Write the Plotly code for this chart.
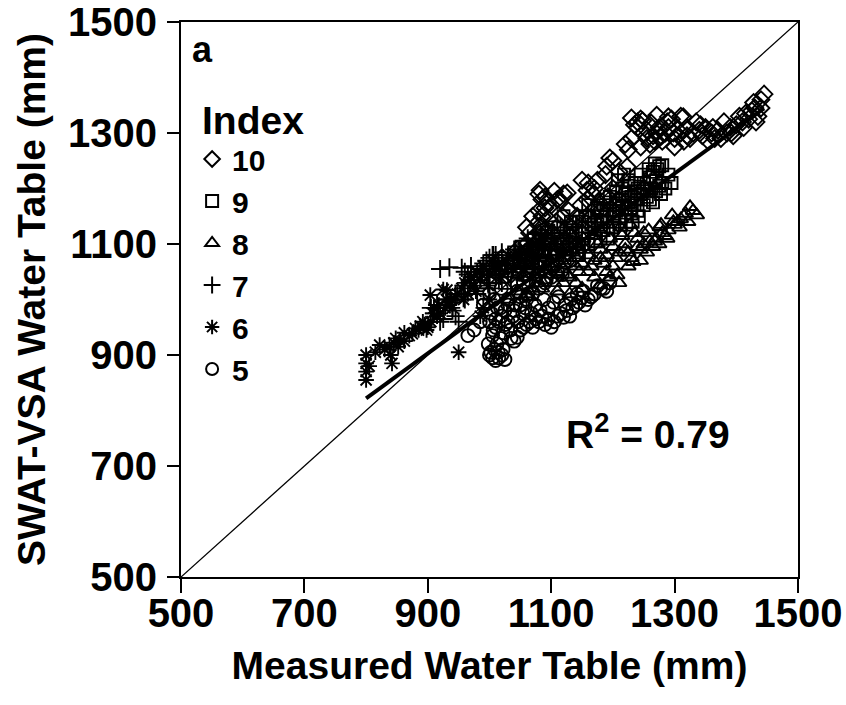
import plotly.graph_objects as go

# ---------------- data ----------------
idx10_x = [1300,1310,1315,1320,1330,1335,1340,1345,1350,1360,1365,1370,1380,1385,1390,1395,1400,1405,1410,1415,
           1420,1425,1430,1435,1440,1445,1440,1428,1375,1355,
           1230,1240,1245,1235,1250,1255,1260,1265,1270,1275,1280,1285,1290,1295,1310,1271,1290,1314,1230,1225,1220,1245,
           1223,1210,1195,1200,1190,1175,1160,1158,1170,1150,1200,
           1080,1085,1090,1095,1080,1085,1090,1080,1085,1100,1110,1120,1126,1095,1080,1082,1114,
           1050,1060,1070,1030,1040,1150,1170,1120,1100,1130,1180,1210,1250,1260,
           1010,1020,1035,1045,1055,1065,1075,1088,1098,1108,1118,1128,1138,1148,1158,1168,1178,1188,1060,1070,
           1092,1105,1240,1248,1255,1262,1268,1278,1288,1298,1320,1342,1362,1392,1412,1432,1300,1325,
           1042,1058,1068,1078,1102,1112,1132,1142,1162,1172,1192,1202]
idx10_y = [1290,1300,1285,1310,1300,1320,1305,1295,1310,1300,1290,1305,1320,1300,1310,1295,1315,1330,1320,1335,
           1325,1340,1345,1330,1360,1370,1345,1355,1290,1285,
           1327,1320,1325,1315,1300,1290,1280,1295,1300,1310,1285,1300,1310,1325,1330,1332,1329,1329,1290,1270,1280,1275,
           1239,1230,1255,1250,1240,1215,1210,1197,1200,1215,1200,
           1190,1180,1185,1175,1160,1150,1165,1140,1130,1170,1180,1190,1192,1145,1120,1197,1179,
           1080,1100,1110,1060,1070,1120,1140,1080,1060,1100,1160,1180,1200,1220,
           1050,1075,1045,1090,1065,1120,1095,1125,1105,1140,1150,1160,1135,1170,1180,1190,1175,1225,1130,1150,
           1110,1195,1310,1322,1305,1318,1285,1295,1320,1300,1295,1315,1310,1300,1310,1320,1275,1290,
           1030,1085,1070,1105,1120,1095,1115,1150,1145,1165,1185,1170]

idx9_x = [1200,1205,1210,1215,1220,1225,1230,1235,1240,1245,1250,1255,1260,1265,1270,1275,1280,1270,1260,1250,
          1240,1230,1220,1210,1200,1190,1180,1185,1195,1205,1215,1225,1235,1265,1275,1280,1285,1295,1290,
          1180,1170,1160,1150,1140,1130,1120,1110,1100,1090,1080,1070,1060,1050,1040,1150,1160,1130,1170,1100,1120,
          1005,1015,1025,1035,1045,1055,1065,1075,1085,1095,1105,1115,1125,1135,1145,1155,1165,1175,1185,1195,
          1205,1215,1225,1235,1245,1255,1262,1268,1272,1278,1208,1218,1228,1238,1248,1258,1190,1175,1160,1145,
          1052,1062,1072,1082,1092,1102,1112,1122,1132,1142,1152,1162,1172,1182,1192,1202,1212,1222,1232,1242]
idx9_y = [1150,1160,1170,1180,1190,1175,1185,1195,1200,1190,1210,1200,1220,1230,1215,1240,1242,1195,1180,1170,
          1160,1155,1150,1140,1130,1140,1150,1170,1185,1195,1200,1205,1210,1175,1205,1210,1200,1210,1225,
          1110,1120,1100,1110,1120,1090,1100,1080,1090,1070,1060,1080,1070,1060,1085,1140,1130,1130,1160,1130,1150,
          1040,1055,1030,1065,1050,1075,1060,1090,1080,1100,1085,1110,1105,1125,1095,1150,1135,1165,1125,1175,
          1180,1165,1215,1170,1225,1185,1200,1245,1235,1190,1215,1225,1165,1180,1195,1235,1160,1135,1170,1080,
          1095,1045,1110,1065,1120,1070,1130,1075,1140,1085,1100,1150,1105,1140,1110,1155,1125,1135,1140,1150]

idx8_x = [1060,1070,1080,1090,1100,1110,1120,1130,1140,1150,1160,1170,1179,1180,1190,1200,1207,1210,1220,1230,
          1233,1240,1250,1255,1260,1265,1270,1275,1280,1285,1290,1296,1300,1305,1310,1318,1325,1330,1336,1276,
          1250,1240,1220,1200,1180,1160,1140,1120,1100,1080,1060,1150,1140,1120,1195,1210,
          1030,1045,1055,1065,1075,1085,1095,1105,1115,1125,1135,1145,1155,1165,1175,1185,1195,1205,1215,1225,
          1235,1245,1258,1268,1278,1288,1298,1308,1315,1322,1110,1130,1170,1190,1225,1245,
          1062,1078,1092,1108,1122,1138,1152,1168,1182,1198,1212,1228]
idx8_y = [1010,1020,1030,1035,1045,1050,1055,1040,1060,1065,1050,1070,1026,1075,1080,1060,1044,1085,1090,1075,
          1068,1095,1100,1085,1105,1095,1110,1100,1120,1115,1125,1152,1135,1140,1145,1155,1167,1160,1152,1131,
          1120,1110,1100,1095,1090,1080,1075,1065,1060,1050,1040,1020,1030,1030,1040,1030,
          1000,1015,1040,1005,1045,1020,1065,1030,1075,1045,1085,1050,1090,1060,1100,1065,1110,1075,1115,1085,
          1120,1090,1125,1105,1135,1110,1140,1130,1150,1140,1015,1010,1040,1050,1060,1070,
          1060,1065,1080,1085,1095,1100,1110,1115,1120,1125,1130,1135]

idx7_x = [905,910,915,920,930,940,945,950,955,960,965,970,975,985,990,995,1000,1005,1010,1015,
          1020,1030,1040,1050,1060,1070,1080,1090,1100,1110,1120,1130,1000,1010,1020,1030,1050,1070,980,960,
          920,935,1006,
          945,958,968,978,988,998,1008,1018,1028,1038,1048,1058,1068,1078,1088,1098,1108,1118,1128,1140,
          1150,925,938,
          1062,1075,1085,1095,1105,1115,1125,1135]
idx7_y = [985,975,990,960,1000,980,970,960,1057,1050,1045,1060,1040,1055,1065,1070,1075,1080,1080,1070,
          1085,1075,1090,1080,1095,1090,1100,1105,1110,1100,1115,1110,1020,1040,1030,1050,1060,1070,1010,1000,
          1055,1058,1080,
          1010,1025,1035,1020,1045,1030,1060,1045,1065,1055,1075,1068,1085,1078,1095,1088,1100,1090,1105,1095,
          1110,965,995,
          1110,1118,1115,1125,1120,1130,1125,1135]

idx6_x = [800,800,800,800,805,815,822,830,838,840,842,848,855,862,870,875,885,895,900,905,
          910,915,920,925,930,935,940,945,950,955,960,965,970,975,980,985,990,1000,1005,1010,
          1020,1030,1040,1050,1060,1070,1080,1090,1000,990,985,931,904,
          880,888,892,898,908,918,928,938,948,958,968,978,988,998,1008,1018,1028,1038,1048,1058,
          1068,1078,862,852,845]
idx6_y = [855,870,885,900,880,905,918,910,915,900,885,930,925,940,935,938,945,955,950,960,
          985,970,975,1018,1000,990,985,1005,905,1020,1030,1010,1040,1025,1050,1035,1060,1045,1070,1055,
          1065,1080,1075,1090,1085,1100,1095,1110,1000,985,970,1017,1008,
          948,952,960,945,975,990,985,1000,1010,1000,1035,1015,1045,1025,1060,1040,1070,1055,1080,1065,
          1090,1075,925,915,922]

idx5_x = [1000,1005,1010,1015,1020,1025,1008,1012,1018,1022,1005,1010,1015,1020,1025,1030,1000,1003,1035,1040,
          1045,1050,1055,1060,1065,1070,1075,1080,1085,1090,1095,1100,1105,1110,1115,1120,1125,1130,1135,1140,
          1145,1150,1155,1160,1170,1180,1190,1030,1040,1050,1060,1070,1080,1090,1100,1110,1000,990,985,965,975,
          998,1002,1006,1010,1014,1018,1022,1026,1030,1034,1038,1042,1046,1050,1054,1058,1062,1068,1074,1082,
          1088,1096,1104,1112,1122,1132,1142,1152,1165,1175,1185,1195,1007,1013,1019,
          1045,1055,1065,1078,1092,1105,1118,1130]
idx5_y = [900,895,890,895,900,892,910,920,930,940,935,950,960,970,980,990,960,975,930,925,
          932,945,950,955,960,950,965,960,970,955,965,950,960,970,975,968,980,970,985,990,
          995,1003,990,1000,1010,1020,1015,960,980,990,1000,1010,1020,1030,1040,1050,1010,990,960,935,945,
          920,905,945,965,905,985,910,955,1000,945,970,990,960,1005,975,985,1010,975,990,980,
          1000,985,995,1005,990,1000,1010,1015,1005,1025,1020,1030,1000,985,1020,
          1015,1030,1035,1045,1035,1060,1045,1070]

series_names = ["10", "9", "8", "7", "6", "5"]
series_x = [idx10_x, idx9_x, idx8_x, idx7_x, idx6_x, idx5_x]
series_y = [idx10_y, idx9_y, idx8_y, idx7_y, idx6_y, idx5_y]
series_symbols = ["diamond-open", "square-open", "triangle-up-open", "cross-thin-open", "asterisk-open", "circle-open"]
series_sizes = [13, 12, 13, 13, 13, 13]

# regression line
reg_slope = 0.81
reg_intercept = 174
r2_text = "R<sup>2</sup> = 0.79"

axis_min, axis_max = 500, 1500
tick_vals = [500, 700, 900, 1100, 1300, 1500]

# ---------------- figure ----------------
FONT = "Liberation Sans, Arial, sans-serif"
fig = go.Figure()

# 1:1 line
fig.add_trace(go.Scatter(x=[axis_min, axis_max], y=[axis_min, axis_max], mode="lines",
                         line=dict(color="black", width=1.3), showlegend=False, hoverinfo="skip"))

for name, xs, ys, sym, sz in zip(series_names, series_x, series_y, series_symbols, series_sizes):
    fig.add_trace(go.Scatter(x=xs, y=ys, mode="markers", name=name,
                             marker=dict(symbol=sym, size=sz, color="black",
                                         line=dict(color="black", width=1.9))))

all_x = [v for s in series_x for v in s]
x0, x1 = min(all_x), max(all_x)
fig.add_trace(go.Scatter(x=[x0, x1], y=[reg_slope * x0 + reg_intercept, reg_slope * x1 + reg_intercept],
                         mode="lines", line=dict(color="black", width=4), showlegend=False, hoverinfo="skip"))

axis_common = dict(range=[axis_min, axis_max], tickvals=tick_vals, showgrid=False, zeroline=False,
                   showline=True, linecolor="black", linewidth=2, mirror=True, automargin=False,
                   ticks="outside", tickwidth=2, tickcolor="black", ticklabeloverflow="allow",
                   tickfont=dict(family=FONT, size=40, color="black", weight="bold"))

fig.update_layout(
    width=846, height=705,
    margin=dict(l=181, r=48, t=22, b=128),
    paper_bgcolor="white", plot_bgcolor="white",
    font=dict(family=FONT, color="black"),
    xaxis=dict(**axis_common, ticklen=14, ticklabelstandoff=-14,
               title=dict(text="Measured Water Table (mm)", standoff=18,
                          font=dict(family=FONT, size=39, color="black", weight="bold"))),
    yaxis=dict(**axis_common, ticklen=12, ticklabelstandoff=2,
               title=dict(text="SWAT-VSA Water Table (mm)", standoff=10,
                          font=dict(family=FONT, size=39, color="black", weight="bold"))),
    legend=dict(x=0.018, y=0.80, xanchor="left", yanchor="top", bgcolor="rgba(0,0,0,0)",
                font=dict(family=FONT, size=30, color="black", weight="bold"),
                itemsizing="constant", tracegroupgap=0),
    annotations=[
        dict(text="a", x=0.015, y=0.95, xref="paper", yref="paper", xanchor="left", yanchor="middle",
             showarrow=False, font=dict(family=FONT, size=36, color="black", weight="bold")),
        dict(text="Index", x=0.03, y=0.822, xref="paper", yref="paper", xanchor="left", yanchor="middle",
             showarrow=False, font=dict(family=FONT, size=39, color="black", weight="bold")),
        dict(text=r2_text, x=0.62, y=0.262, xref="paper", yref="paper", xanchor="left", yanchor="middle",
             showarrow=False, font=dict(family=FONT, size=39, color="black", weight="bold")),
    ],
)

# remove the page's default body margin so the 846x705 figure fills the window exactly
fig.write_html("out.html", config={"displayModeBar": False},
               post_script="document.body.style.margin='0';")
